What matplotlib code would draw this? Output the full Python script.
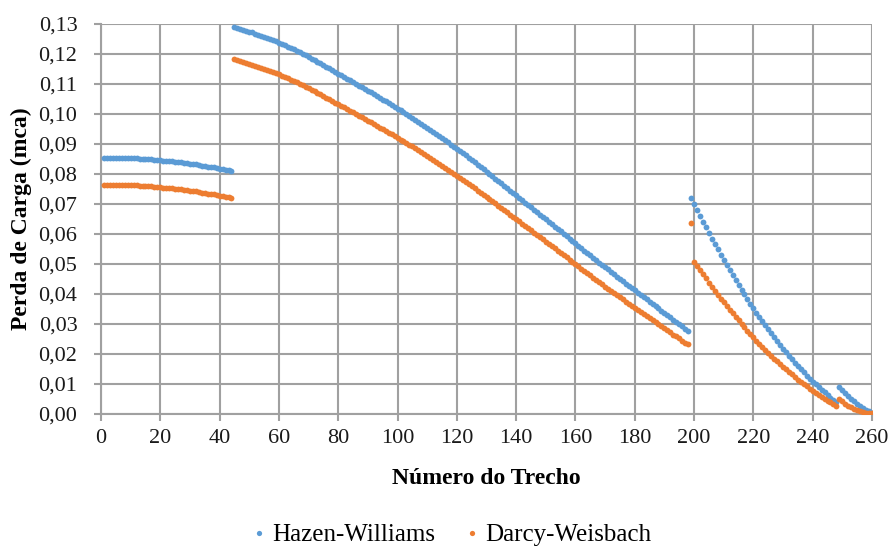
import matplotlib
matplotlib.use("Agg")
import matplotlib.pyplot as plt
from matplotlib.ticker import FuncFormatter, MultipleLocator

# ---- data -------------------------------------------------------------
trecho = list(range(1, 261))

hw_seg1 = [0.0855, 0.0855, 0.0855, 0.0855, 0.0855, 0.0854, 0.0854, 0.0854, 0.0853, 0.0853,
           0.0853, 0.0852, 0.0851, 0.0851, 0.0850, 0.0850, 0.0849, 0.0848, 0.0847, 0.0846,
           0.0845, 0.0844, 0.0843, 0.0842, 0.0841, 0.0840, 0.0839, 0.0837, 0.0836, 0.0835,
           0.0833, 0.0832, 0.0830, 0.0828, 0.0827, 0.0825, 0.0823, 0.0822, 0.0820, 0.0818,
           0.0816, 0.0814, 0.0812, 0.0810]
hw_seg2 = [0.1290, 0.1287, 0.1284, 0.1281, 0.1278, 0.1275, 0.1272, 0.1268, 0.1265, 0.1261,
           0.1258, 0.1254, 0.1250, 0.1246, 0.1242, 0.1238, 0.1234, 0.1229, 0.1225, 0.1220,
           0.1216, 0.1211, 0.1206, 0.1201, 0.1196, 0.1191, 0.1185, 0.1180, 0.1174, 0.1169,
           0.1164, 0.1158, 0.1152, 0.1146, 0.1141, 0.1135, 0.1129, 0.1124, 0.1118, 0.1112,
           0.1107, 0.1101, 0.1095, 0.1089, 0.1083, 0.1078, 0.1072, 0.1066, 0.1060, 0.1054,
           0.1048, 0.1042, 0.1036, 0.1030, 0.1024, 0.1018, 0.1012, 0.1006, 0.0999, 0.0993,
           0.0987, 0.0981, 0.0974, 0.0968, 0.0961, 0.0955, 0.0948, 0.0941, 0.0934, 0.0927,
           0.0920, 0.0913, 0.0906, 0.0898, 0.0891, 0.0884, 0.0877, 0.0869, 0.0862, 0.0854,
           0.0847, 0.0839, 0.0831, 0.0823, 0.0816, 0.0808, 0.0800, 0.0792, 0.0785, 0.0777,
           0.0769, 0.0761, 0.0753, 0.0745, 0.0737, 0.0729, 0.0721, 0.0713, 0.0705, 0.0697,
           0.0689, 0.0681, 0.0673, 0.0665, 0.0657, 0.0649, 0.0641, 0.0633, 0.0625, 0.0617,
           0.0609, 0.0601, 0.0593, 0.0585, 0.0577, 0.0569, 0.0561, 0.0553, 0.0545, 0.0537,
           0.0529, 0.0521, 0.0513, 0.0505, 0.0497, 0.0490, 0.0482, 0.0474, 0.0466, 0.0458,
           0.0451, 0.0443, 0.0435, 0.0427, 0.0420, 0.0412, 0.0404, 0.0397, 0.0389, 0.0382,
           0.0374, 0.0367, 0.0359, 0.0352, 0.0344, 0.0337, 0.0329, 0.0322, 0.0314, 0.0307,
           0.0299, 0.0292, 0.0284, 0.0277]
hw_seg3 = [0.0720, 0.0700, 0.0680, 0.0661, 0.0641, 0.0622, 0.0604, 0.0585, 0.0567, 0.0549,
           0.0531, 0.0514, 0.0497, 0.0480, 0.0463, 0.0446, 0.0430, 0.0414, 0.0399, 0.0383,
           0.0368, 0.0353, 0.0338, 0.0324, 0.0310, 0.0296, 0.0282, 0.0269, 0.0256, 0.0243,
           0.0230, 0.0218, 0.0206, 0.0194, 0.0182, 0.0171, 0.0160, 0.0149, 0.0139, 0.0128,
           0.0118, 0.0108, 0.0099, 0.0089, 0.0080, 0.0072, 0.0063, 0.0055, 0.0047, 0.0039]
hw_seg4 = [0.0090, 0.0080, 0.0070, 0.0060, 0.0051, 0.0043, 0.0035, 0.0028, 0.0021, 0.0015,
           0.0009, 0.0004]

dw_seg1 = [0.0765, 0.0765, 0.0765, 0.0765, 0.0765, 0.0764, 0.0764, 0.0764, 0.0763, 0.0763,
           0.0763, 0.0762, 0.0761, 0.0761, 0.0760, 0.0760, 0.0759, 0.0758, 0.0757, 0.0756,
           0.0755, 0.0754, 0.0753, 0.0752, 0.0751, 0.0750, 0.0749, 0.0747, 0.0746, 0.0745,
           0.0743, 0.0742, 0.0740, 0.0738, 0.0737, 0.0735, 0.0733, 0.0732, 0.0730, 0.0728,
           0.0726, 0.0724, 0.0722, 0.0720]
dw_seg2 = [0.1183, 0.1180, 0.1177, 0.1174, 0.1171, 0.1168, 0.1165, 0.1161, 0.1158, 0.1155,
           0.1151, 0.1147, 0.1144, 0.1140, 0.1136, 0.1132, 0.1128, 0.1123, 0.1119, 0.1115,
           0.1110, 0.1106, 0.1101, 0.1096, 0.1091, 0.1086, 0.1081, 0.1076, 0.1071, 0.1066,
           0.1060, 0.1055, 0.1049, 0.1044, 0.1038, 0.1033, 0.1028, 0.1022, 0.1017, 0.1011,
           0.1006, 0.1000, 0.0995, 0.0989, 0.0984, 0.0978, 0.0972, 0.0967, 0.0961, 0.0955,
           0.0950, 0.0944, 0.0938, 0.0933, 0.0927, 0.0921, 0.0915, 0.0909, 0.0903, 0.0898,
           0.0892, 0.0886, 0.0879, 0.0873, 0.0867, 0.0861, 0.0854, 0.0848, 0.0841, 0.0835,
           0.0828, 0.0821, 0.0815, 0.0808, 0.0801, 0.0794, 0.0787, 0.0780, 0.0773, 0.0766,
           0.0759, 0.0752, 0.0745, 0.0738, 0.0731, 0.0723, 0.0716, 0.0709, 0.0702, 0.0695,
           0.0687, 0.0680, 0.0672, 0.0665, 0.0657, 0.0650, 0.0642, 0.0635, 0.0627, 0.0620,
           0.0612, 0.0605, 0.0597, 0.0590, 0.0582, 0.0574, 0.0567, 0.0559, 0.0552, 0.0544,
           0.0537, 0.0529, 0.0522, 0.0514, 0.0507, 0.0499, 0.0492, 0.0484, 0.0477, 0.0469,
           0.0462, 0.0455, 0.0447, 0.0440, 0.0433, 0.0425, 0.0418, 0.0411, 0.0404, 0.0397,
           0.0389, 0.0382, 0.0375, 0.0368, 0.0361, 0.0354, 0.0347, 0.0340, 0.0333, 0.0326,
           0.0320, 0.0313, 0.0306, 0.0299, 0.0292, 0.0286, 0.0279, 0.0272, 0.0265, 0.0259,
           0.0252, 0.0245, 0.0238, 0.0232]
dw_seg3 = [0.0636, 0.0508, 0.0494, 0.0479, 0.0466, 0.0452, 0.0438, 0.0425, 0.0411, 0.0398,
           0.0385, 0.0373, 0.0360, 0.0348, 0.0336, 0.0324, 0.0312, 0.0301, 0.0289, 0.0278,
           0.0267, 0.0256, 0.0245, 0.0235, 0.0225, 0.0214, 0.0205, 0.0195, 0.0185, 0.0176,
           0.0167, 0.0158, 0.0149, 0.0140, 0.0132, 0.0124, 0.0115, 0.0108, 0.0100, 0.0092,
           0.0085, 0.0078, 0.0071, 0.0064, 0.0057, 0.0051, 0.0045, 0.0039, 0.0033, 0.0027]
dw_seg4 = [0.0050, 0.0042, 0.0035, 0.0028, 0.0022, 0.0017, 0.0013, 0.0009, 0.0006, 0.0004,
           0.0003, 0.0002]

hazen = hw_seg1 + hw_seg2 + hw_seg3 + hw_seg4
darcy = dw_seg1 + dw_seg2 + dw_seg3 + dw_seg4

series_names = ["Hazen-Williams", "Darcy-Weisbach"]
colors = ["#5B9BD5", "#ED7D31"]

# ---- figure -----------------------------------------------------------
plt.rcParams['font.family'] = ['Liberation Serif', 'DejaVu Serif']

fig = plt.figure(figsize=(8.91, 5.46), dpi=100)
ax = fig.add_axes([101/891, 1-414/546, (872-101)/891, (414-24)/546])

ax.plot(trecho, hazen, linestyle='none', marker='o', markersize=4.2,
        markeredgewidth=0, color=colors[0], label=series_names[0], zorder=3)
ax.plot(trecho, darcy, linestyle='none', marker='o', markersize=4.2,
        markeredgewidth=0, color=colors[1], label=series_names[1], zorder=3)

ax.set_xlim(0, 260)
ax.set_ylim(0, 0.13)
ax.xaxis.set_major_locator(MultipleLocator(20))
ax.yaxis.set_major_locator(MultipleLocator(0.01))
ax.yaxis.set_major_formatter(FuncFormatter(lambda v, p: f"{v:.2f}".replace('.', ',')))

gridc = "#A0A0A0"
ax.grid(True, color=gridc, linewidth=1.5, zorder=0)
ax.set_axisbelow(True)
for s in ['top', 'right']:
    ax.spines[s].set_visible(False)
for s in ['left', 'bottom']:
    ax.spines[s].set_color(gridc)
    ax.spines[s].set_linewidth(1.5)
ax.tick_params(axis='both', direction='out', length=5, width=1.5, color=gridc,
               labelsize=16, labelcolor='#1a1a1a')
ax.tick_params(axis='x', pad=6)
ax.tick_params(axis='y', pad=12)

ax.set_xlabel("Número do Trecho", fontsize=17, fontweight='bold', labelpad=14)
ax.set_ylabel("Perda de Carga (mca)", fontsize=17, fontweight='bold', labelpad=5)

handles, labels = ax.get_legend_handles_labels()
fig.legend(handles, labels, loc='center', bbox_to_anchor=(452/891, 1-535/546),
           ncol=2, frameon=False, fontsize=18, markerscale=0.9,
           handlelength=0.5, handletextpad=0.3, columnspacing=1.2,
           borderpad=0.1)

fig.savefig("out.png", dpi=100)
